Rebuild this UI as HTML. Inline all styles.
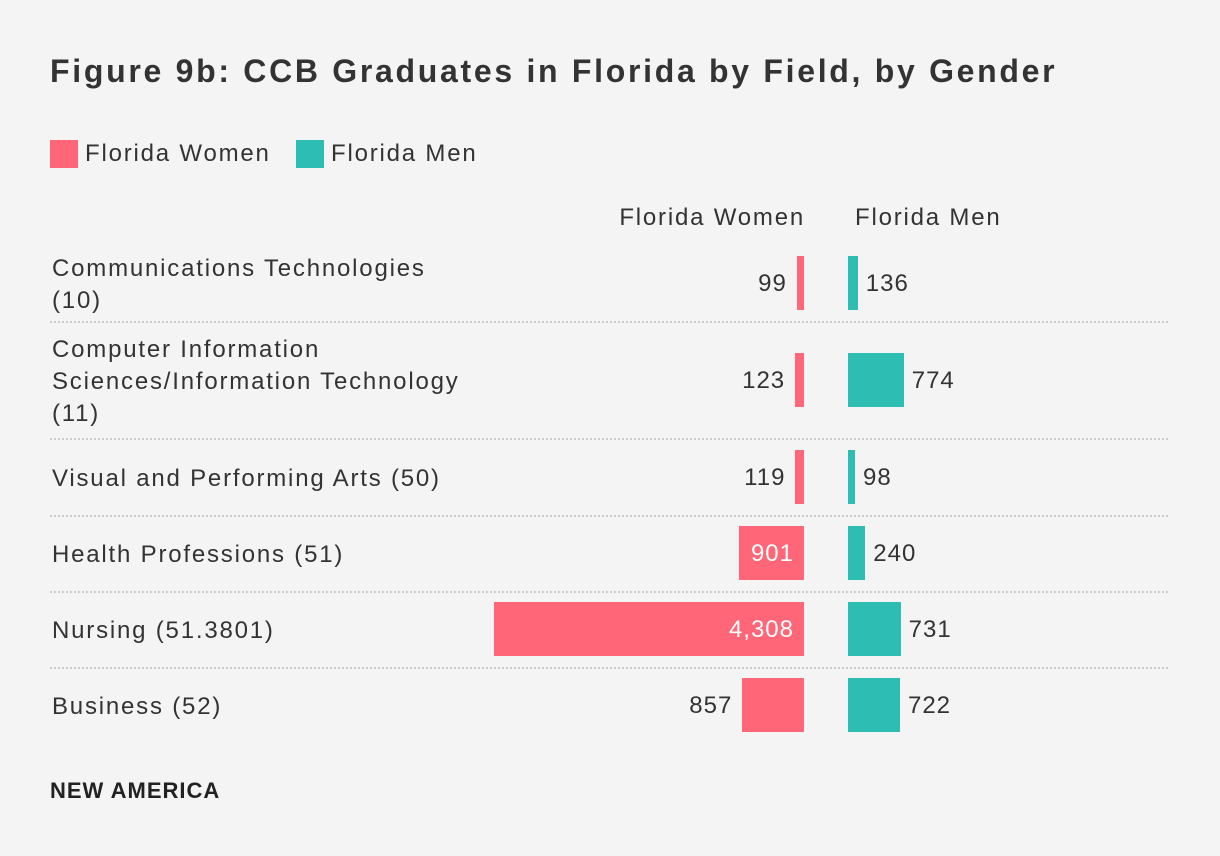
<!DOCTYPE html>
<html><head><meta charset="utf-8"><style>
body{margin:0;background:#f4f4f4;font-family:"Liberation Sans",sans-serif;}
#wrap{position:relative;width:1220px;height:856px;background:#f4f4f4;overflow:hidden}
.t{position:absolute;white-space:nowrap;color:#333;letter-spacing:1.8px}
</style></head><body>
<div id="wrap">
<div class="t" style="left:50px;top:53px;font-size:32px;font-weight:bold;color:#333;letter-spacing:2.7px">Figure 9b: CCB Graduates in Florida by Field, by Gender</div>
<div style="position:absolute;left:50px;top:140px;width:28px;height:28px;background:#ff6677"></div>
<div class="t" style="left:85px;top:140px;font-size:24px">Florida Women</div>
<div style="position:absolute;left:296px;top:140px;width:28px;height:28px;background:#2ebdb2"></div>
<div class="t" style="left:331px;top:140px;font-size:24px">Florida Men</div>
<div class="t" style="right:415px;top:204px;font-size:24px">Florida Women</div>
<div class="t" style="left:855px;top:204px;font-size:24px">Florida Men</div>
<div class="t" style="left:50px;top:778px;font-size:22px;font-weight:bold;color:#222;letter-spacing:1px">NEW AMERICA</div>
</div>
<script>
const categories=[["Communications Technologies","(10)"],["Computer Information","Sciences/Information Technology","(11)"],["Visual and Performing Arts (50)"],["Health Professions (51)"],["Nursing (51.3801)"],["Business (52)"]];
const women=[99,123,119,901,4308,857];
const men=[136,774,98,240,731,722];
const rowTops=[245,321,438,515,591,667,743];
const scale=v=>v*0.072;
const wrap=document.getElementById('wrap');
function mk(style,name,inter,text){const d=document.createElement('div');d.style.cssText=style;if(text!==undefined){d.className='t';d.textContent=text;}


wrap.appendChild(d);return d;}
const fmt=v=>v.toLocaleString('en-US');
categories.forEach((c,i)=>{
 const top=rowTops[i],bot=rowTops[i+1],mid=(top+bot)/2;
 const lh=32,h=c.length*lh;
 const lab=mk(`left:52px;top:${mid-h/2+2}px;font-size:24px;line-height:${lh}px`,'category-label',"false");
 lab.className='t';lab.innerHTML=c.join('<br>');
 const ww=scale(women[i]);
 mk(`position:absolute;left:${804-ww}px;top:${mid-27}px;width:${ww}px;height:54px;background:#ff6677`,'bar-women',"true");
 if(ww>=64) mk(`right:${1220-794}px;top:${mid-13}px;font-size:24px;color:#fff;letter-spacing:1px`,'value-women',"false",fmt(women[i]));
 else mk(`right:${1220-(804-ww-10)}px;top:${mid-13}px;font-size:24px;letter-spacing:1px`,'value-women',"false",fmt(women[i]));
 const mw=scale(men[i]);
 mk(`position:absolute;left:848px;top:${mid-27}px;width:${mw}px;height:54px;background:#2ebdb2`,'bar-men',"true");
 mk(`left:${848+mw+8}px;top:${mid-13}px;font-size:24px;letter-spacing:1px`,'value-men',"false",fmt(men[i]));
 if(i<categories.length-1) mk(`position:absolute;left:50px;top:${bot}px;width:1118px;border-top:2px dotted #ccc`,'row-separator',"false");
});
</script>
</body></html>
